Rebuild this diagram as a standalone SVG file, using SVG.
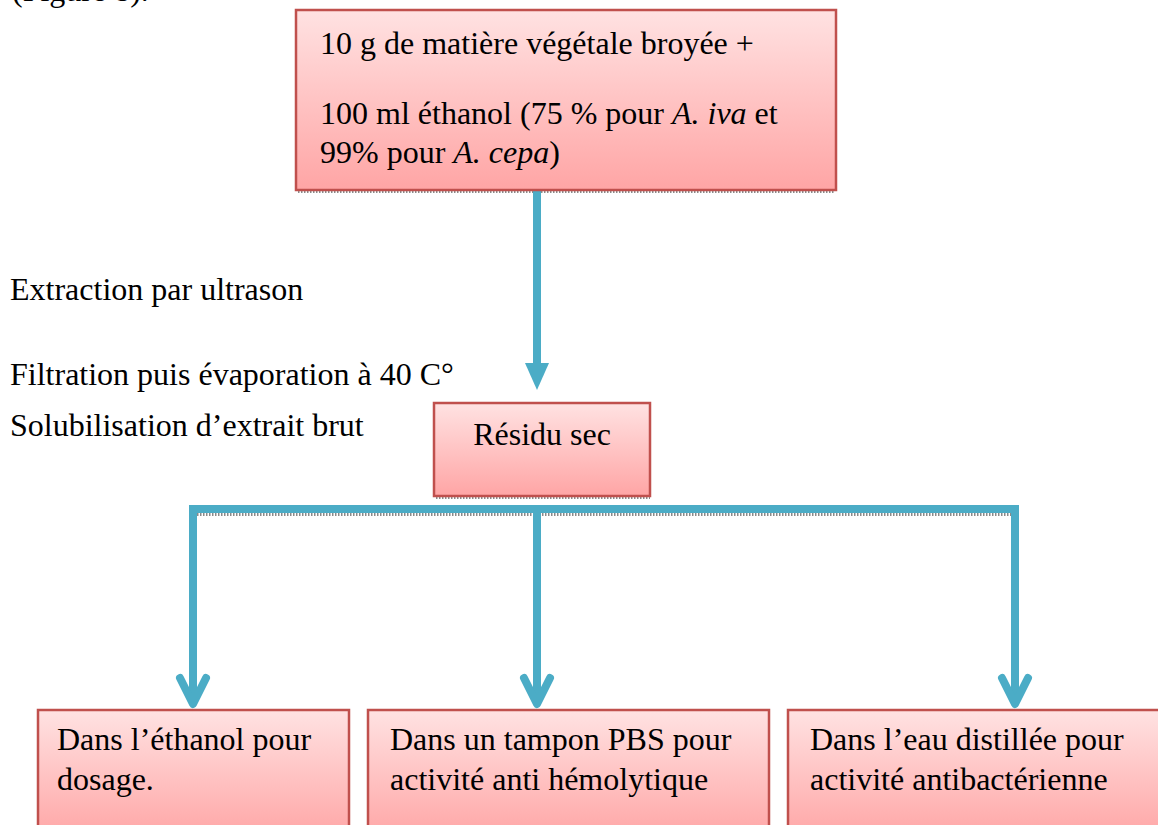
<svg xmlns="http://www.w3.org/2000/svg" width="1158" height="825" viewBox="0 0 1158 825">
<defs>
<linearGradient id="pink" x1="0" y1="0" x2="0" y2="1">
<stop offset="0" stop-color="#FFE2E2"/>
<stop offset="1" stop-color="#FFA5A5"/>
</linearGradient>
<style>
text{font-family:"Liberation Serif","Times New Roman",serif;font-size:32px;fill:#000}
.box{fill:url(#pink);stroke:#C0504D;stroke-width:2.5}
.shadow{fill:none;stroke:#8a8a8a;stroke-width:3;stroke-dasharray:1.5 1.5}
.conn{fill:none;stroke:#4BACC6;stroke-width:8}
.chev{fill:none;stroke:#4BACC6;stroke-width:8;stroke-linecap:round;stroke-linejoin:round}
.it{font-style:italic}
</style>
</defs>
<rect width="1158" height="825" fill="#fff"/>
<text x="12" y="1">(Figure 8).</text>
<g id="labels">
<text x="10" y="300">Extraction par ultrason</text>
<text x="10" y="385">Filtration puis évaporation à 40 C°</text>
<text x="10" y="436">Solubilisation d’extrait brut</text>
</g>
<g id="connectors">
<line class="shadow" x1="298" y1="191.5" x2="834" y2="191.5"/>
<line class="conn" x1="537" y1="190" x2="537" y2="365"/>
<polygon points="525,363 549,363 537,390" fill="#4BACC6"/>
<line class="shadow" x1="436" y1="497.5" x2="650" y2="497.5"/>
<path class="conn" d="M193,702 V509 H1015 V702"/>
<line class="shadow" x1="197" y1="514.5" x2="1011" y2="514.5"/>
<line class="conn" x1="537" y1="513" x2="537" y2="702"/>
<path class="chev" d="M180,678 L193,704 L206,678"/>
<path class="chev" d="M524,678 L537,704 L550,678"/>
<path class="chev" d="M1002,678 L1015,704 L1028,678"/>
</g>
<g id="start">
<rect class="box" x="296" y="10" width="540" height="180"/>
<text x="320" y="54">10 g de matière végétale broyée +</text>
<text x="320" y="124">100 ml éthanol (75 % pour <tspan class="it">A. iva</tspan> et</text>
<text x="320" y="163">99% pour <tspan class="it">A. cepa</tspan>)</text>
</g>
<g id="residu">
<rect class="box" x="434" y="403" width="216" height="93"/>
<text x="542" y="445" text-anchor="middle">Résidu sec</text>
</g>
<g id="ethanol">
<rect class="box" x="38" y="710" width="311" height="130"/>
<text x="57" y="750">Dans l’éthanol pour</text>
<text x="57" y="790">dosage.</text>
</g>
<g id="pbs">
<rect class="box" x="368" y="710" width="401" height="130"/>
<text x="390" y="750">Dans un tampon PBS pour</text>
<text x="390" y="790">activité anti hémolytique</text>
</g>
<g id="eau">
<rect class="box" x="788" y="710" width="390" height="130"/>
<text x="810" y="750">Dans l’eau distillée pour</text>
<text x="810" y="790">activité antibactérienne</text>
</g>
</svg>
